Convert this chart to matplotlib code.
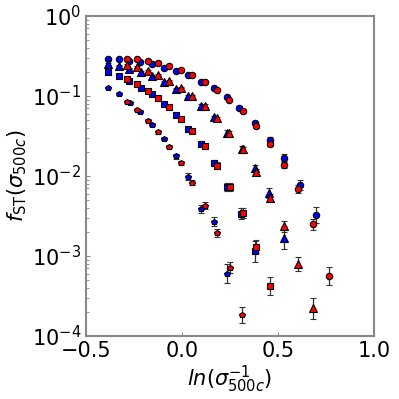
import matplotlib
matplotlib.use("Agg")
import matplotlib.pyplot as plt
import numpy as np

# ln(1/sigma) and log10(f_ST), one list per series
circ_blue_x = [-0.384, -0.328, -0.274, -0.219, -0.156, -0.095, -0.033, 0.030, 0.097, 0.167,
               0.233, 0.297, 0.379, 0.457, 0.533, 0.613, 0.696]
circ_blue_logf = [-0.538, -0.538, -0.558, -0.571, -0.600, -0.646, -0.688, -0.741, -0.821, -0.904,
                  -1.008, -1.146, -1.333, -1.546, -1.771, -2.113, -2.490]
circ_blue_err = [0.01, 0.01, 0.01, 0.01, 0.01, 0.01, 0.01, 0.01, 0.01, 0.01,
                 0.01, 0.02, 0.02, 0.03, 0.04, 0.06, 0.10]

circ_red_x = [-0.288, -0.233, -0.179, -0.123, -0.066, -0.007, 0.054, 0.120, 0.182, 0.246,
              0.316, 0.385, 0.457, 0.530, 0.606, 0.684, 0.764]
circ_red_logf = [-0.538, -0.540, -0.563, -0.590, -0.629, -0.679, -0.741, -0.825, -0.925, -1.050,
                 -1.188, -1.379, -1.596, -1.866, -2.163, -2.604, -3.254]
circ_red_err = [0.01, 0.01, 0.01, 0.01, 0.01, 0.01, 0.01, 0.01, 0.01, 0.01,
                0.02, 0.02, 0.03, 0.04, 0.05, 0.07, 0.11]

tri_blue_x = [-0.384, -0.328, -0.274, -0.215, -0.156, -0.095, -0.033, 0.030, 0.097, 0.167,
              0.233, 0.311, 0.379, 0.455, 0.533]
tri_blue_logf = [-0.604, -0.621, -0.659, -0.704, -0.750, -0.825, -0.909, -1.000, -1.121, -1.266,
                 -1.459, -1.659, -1.904, -2.216, -2.771]
tri_blue_err = [0.01, 0.01, 0.01, 0.01, 0.01, 0.01, 0.01, 0.01, 0.02, 0.02,
                0.03, 0.03, 0.04, 0.06, 0.14]

tri_red_x = [-0.288, -0.233, -0.179, -0.123, -0.066, -0.007, 0.054, 0.120, 0.182, 0.246,
             0.316, 0.385, 0.457, 0.530, 0.606, 0.684]
tri_red_logf = [-0.616, -0.641, -0.688, -0.738, -0.809, -0.896, -0.996, -1.121, -1.279, -1.463,
                -1.666, -1.954, -2.279, -2.629, -3.100, -3.654]
tri_red_err = [0.01, 0.01, 0.01, 0.01, 0.01, 0.01, 0.01, 0.02, 0.02, 0.02,
               0.03, 0.04, 0.05, 0.07, 0.09, 0.13]

sq_blue_x = [-0.384, -0.328, -0.274, -0.215, -0.156, -0.095, -0.033, 0.030, 0.097, 0.167,
             0.233, 0.306, 0.379]
sq_blue_logf = [-0.696, -0.750, -0.816, -0.896, -0.979, -1.100, -1.238, -1.413, -1.596, -1.841,
                -2.134, -2.471, -2.941]
sq_blue_err = [0.01, 0.01, 0.01, 0.01, 0.01, 0.02, 0.02, 0.02, 0.03, 0.04,
               0.05, 0.07, 0.13]

sq_red_x = [-0.288, -0.233, -0.179, -0.123, -0.066, -0.007, 0.054, 0.120, 0.182, 0.250,
            0.316, 0.385, 0.457]
sq_red_logf = [-0.791, -0.854, -0.934, -1.029, -1.141, -1.284, -1.438, -1.629, -1.871, -2.138,
               -2.463, -2.884, -3.375]
sq_red_err = [0.01, 0.01, 0.01, 0.01, 0.02, 0.02, 0.02, 0.03, 0.04, 0.05,
              0.06, 0.08, 0.11]

pent_blue_x = [-0.384, -0.328, -0.273, -0.217, -0.156, -0.095, -0.033, 0.030, 0.097, 0.165,
               0.234]
pent_blue_logf = [-0.896, -0.979, -1.088, -1.196, -1.359, -1.534, -1.754, -2.009, -2.409, -2.571,
                  -3.221]
pent_blue_err = [0.01, 0.01, 0.01, 0.02, 0.02, 0.02, 0.03, 0.04, 0.05, 0.06,
                 0.12]

pent_red_x = [-0.288, -0.233, -0.179, -0.123, -0.066, -0.007, 0.054, 0.118, 0.182, 0.248,
              0.314]
pent_red_logf = [-1.079, -1.179, -1.309, -1.454, -1.634, -1.838, -2.084, -2.371, -2.713, -3.146,
                 -3.738]
pent_red_err = [0.01, 0.01, 0.02, 0.02, 0.02, 0.03, 0.03, 0.04, 0.05, 0.07,
                0.10]

series = [
    (circ_blue_x, circ_blue_logf, circ_blue_err, "o", 4.6, "blue"),
    (circ_red_x, circ_red_logf, circ_red_err, "o", 4.6, "red"),
    (tri_blue_x, tri_blue_logf, tri_blue_err, "^", 5.2, "blue"),
    (tri_red_x, tri_red_logf, tri_red_err, "^", 5.2, "red"),
    (sq_blue_x, sq_blue_logf, sq_blue_err, "s", 4.3, "blue"),
    (sq_red_x, sq_red_logf, sq_red_err, "s", 4.3, "red"),
    (pent_blue_x, pent_blue_logf, pent_blue_err, "p", 4.0, "blue"),
    (pent_red_x, pent_red_logf, pent_red_err, "p", 4.0, "red"),
]

fig = plt.figure(figsize=(3.99, 3.99), dpi=100)
ax = fig.add_axes([0.2155, 0.158, 0.7215, 0.802])

for x, logf, err, marker, ms, color in series:
    f = 10 ** np.array(logf)
    e = np.array(err)
    lo = f - 10 ** (np.array(logf) - e)
    hi = 10 ** (np.array(logf) + e) - f
    ax.errorbar(x, f, yerr=[lo, hi], fmt=marker, ms=ms, mfc=color, mec="black", mew=0.8,
                ecolor="#333333", elinewidth=0.9, capsize=2, capthick=0.9, zorder=3)

ax.set_yscale("log")
ax.set_xlim(-0.5, 1.0)
ax.set_ylim(1e-4, 1.0)
ax.set_xticks([-0.5, 0.0, 0.5, 1.0])

for s in ax.spines.values():
    s.set_color("#888888")
    s.set_linewidth(1.5)
ax.tick_params(axis="both", which="both", direction="in", color="#888888", labelsize=15)
ax.tick_params(axis="both", which="major", length=3)
ax.tick_params(axis="both", which="minor", length=2)

ax.set_xlabel(r"$ln(\sigma^{-1}_{500c})$", fontsize=15, labelpad=2)
ax.set_ylabel(r"$f_{\rm ST}(\sigma_{500c})$", fontsize=15, labelpad=2)

fig.savefig("out.png", dpi=100)
